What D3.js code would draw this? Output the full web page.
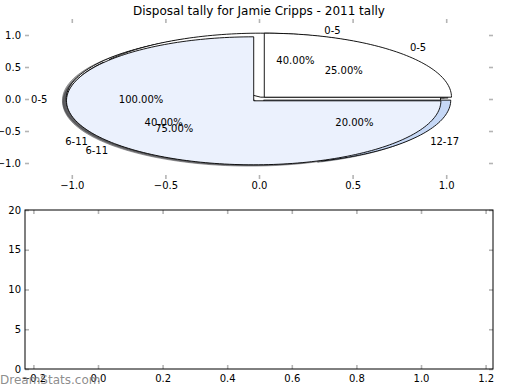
<!DOCTYPE html>
<html>
<head>
<meta charset="utf-8">
<script src="https://cdn.jsdelivr.net/npm/d3@7"></script>
<style>
  html, body { margin: 0; padding: 0; background: #ffffff; }
  svg { display: block; font-family: "DejaVu Sans", sans-serif; }
</style>
</head>
<body>
<svg id="chart" width="520" height="390"></svg>
<script>
// ---- data ----
const chartTitle = "Disposal tally for Jamie Cripps - 2011 tally";
const pie1Labels = ["0-5"];
const pie1Values = [100];
const pie1Explode = [0.03];
const pie2Labels = ["0-5", "6-11", "12-17"];
const pie2Values = [40, 40, 20];
const pie2Explode = [0.03, 0.03, 0.03];
const pie3Labels = ["0-5", "6-11"];
const pie3Values = [25, 75];
const pie3Explode = [0.04, 0.04];
const pieTicks = [-1.0, -0.5, 0.0, 0.5, 1.0];
const lowerXTicks = [-0.2, 0.0, 0.2, 0.4, 0.6, 0.8, 1.0, 1.2];
const lowerYTicks = [0, 5, 10, 15, 20];
const watermark = "DreamStats.com";

// ---- style ----
const wedgeColors = ["#ffffff", "#ebf1fd", "#c6d8f6"];
const tickColor = "#b4b4b4";
const fmtTick = d => d3.format(".1f")(d).replace("-", "\u2212");

const svg = d3.select("#chart");

// ---- upper (pie) axes ----
const px = d3.scaleLinear().domain([-1.25, 1.25]).range([25, 493]);
const py = d3.scaleLinear().domain([-1.25, 1.25]).range([179, 19]);

const pies = [
  { labels: pie1Labels, values: pie1Values, explode: pie1Explode },
  { labels: pie2Labels, values: pie2Values, explode: pie2Explode },
  { labels: pie3Labels, values: pie3Values, explode: pie3Explode }
];

const rad = d => d * Math.PI / 180;
const line = d3.line().x(d => px(d[0])).y(d => py(d[1]));

function wedgePoints(cx, cy, t1, t2) {
  const full = Math.abs((t2 - t1) - 360) < 1e-9;
  const n = Math.max(8, Math.ceil((t2 - t1) / 1.5));
  const pts = [];
  if (!full) pts.push([cx, cy]);
  for (let i = 0; i <= n; i++) {
    const a = rad(t1 + (t2 - t1) * i / n);
    pts.push([cx + Math.cos(a), cy + Math.sin(a)]);
  }
  return pts;
}

// build wedges
const wedges = [];
pies.forEach((p, pi) => {
  const total = d3.sum(p.values);
  let t = 0;
  p.values.forEach((v, i) => {
    const frac = v / total;
    const t1 = 360 * t, t2 = 360 * (t + frac);
    const tm = rad((t1 + t2) / 2);
    const cx = p.explode[i] * Math.cos(tm);
    const cy = p.explode[i] * Math.sin(tm);
    wedges.push({
      pie: pi, color: wedgeColors[i % wedgeColors.length],
      pts: wedgePoints(cx, cy, t1, t2),
      label: p.labels[i], pct: d3.format(".2f")(100 * frac) + "%",
      lx: cx + 1.1 * Math.cos(tm), ly: cy + 1.1 * Math.sin(tm),
      tx: cx + 0.6 * Math.cos(tm), ty: cy + 0.6 * Math.sin(tm)
    });
    t += frac;
  });
});

const gPie = svg.append("g");
// shadows (below all wedges)
wedges.forEach(w => {
  const c = d3.rgb(w.color);
  const sc = d3.rgb(c.r * 0.3, c.g * 0.3, c.b * 0.3);
  gPie.append("path")
    .attr("d", line(w.pts.map(p => [p[0] - 0.02, p[1] - 0.02])) + "Z")
    .attr("fill", sc).attr("fill-opacity", 0.5)
    .attr("stroke", sc).attr("stroke-opacity", 0.5).attr("stroke-width", 1);
});
// wedges
wedges.forEach(w => {
  gPie.append("path")
    .attr("d", line(w.pts) + "Z")
    .attr("fill", w.color)
    .attr("stroke", "#000").attr("stroke-width", 0.9)
    .attr("stroke-linejoin", "miter");
});
// texts
wedges.forEach(w => {
  gPie.append("text")
    .attr("x", px(w.lx)).attr("y", py(w.ly)).attr("dy", "0.36em")
    .attr("text-anchor", w.lx > 0 ? "start" : "end")
    .attr("font-size", 10).attr("fill", "#000").text(w.label);
  gPie.append("text")
    .attr("x", px(w.tx)).attr("y", py(w.ty)).attr("dy", "0.36em")
    .attr("text-anchor", "middle")
    .attr("font-size", 10).attr("fill", "#000").text(w.pct);
});

function styleAxis(g) {
  g.select(".domain").remove();
  g.selectAll(".tick line").attr("stroke", tickColor).attr("stroke-width", 1.6);
  g.selectAll(".tick text").attr("font-family", "DejaVu Sans").attr("font-size", 10).attr("fill", "#000");
}

// pie axes ticks (frame off)
svg.append("g").attr("transform", "translate(0,179)")
  .call(d3.axisBottom(px).tickValues(pieTicks).tickSize(-4).tickPadding(3).tickFormat(fmtTick))
  .call(styleAxis);
svg.append("g").attr("transform", "translate(0,19)")
  .call(d3.axisTop(px).tickValues(pieTicks).tickSize(-4).tickFormat(""))
  .call(styleAxis);
svg.append("g").attr("transform", "translate(25,0)")
  .call(d3.axisLeft(py).tickValues(pieTicks).tickSize(-4).tickPadding(4).tickFormat(fmtTick))
  .call(styleAxis);
svg.append("g").attr("transform", "translate(493,0)")
  .call(d3.axisRight(py).tickValues(pieTicks).tickSize(-4).tickFormat(""))
  .call(styleAxis);

// title
svg.append("text").attr("x", 259).attr("y", 14.5).attr("text-anchor", "middle")
  .attr("font-size", 12).attr("fill", "#000").text(chartTitle);

// ---- lower axes (empty) ----
const bx = d3.scaleLinear().domain([-0.226, 1.2229]).range([25, 493]);
const by = d3.scaleLinear().domain([0, 20]).range([369, 210]);

svg.append("g").attr("transform", "translate(0,369)")
  .call(d3.axisBottom(bx).tickValues(lowerXTicks).tickSize(-4).tickPadding(5.5).tickFormat(fmtTick))
  .call(styleAxis);
svg.append("g").attr("transform", "translate(0,210)")
  .call(d3.axisTop(bx).tickValues(lowerXTicks).tickSize(-4).tickFormat(""))
  .call(styleAxis);
svg.append("g").attr("transform", "translate(25,0)")
  .call(d3.axisLeft(by).tickValues(lowerYTicks).tickSize(-4).tickPadding(4).tickFormat(d3.format("d")))
  .call(styleAxis);
svg.append("g").attr("transform", "translate(493,0)")
  .call(d3.axisRight(by).tickValues(lowerYTicks).tickSize(-4).tickFormat(""))
  .call(styleAxis);

svg.append("rect").attr("x", 25).attr("y", 210).attr("width", 468).attr("height", 159)
  .attr("fill", "none").attr("stroke", "#000").attr("stroke-width", 1);

// watermark
svg.append("text").attr("x", 0).attr("y", 383.5).attr("font-size", 12)
  .attr("fill", "#808080").attr("fill-opacity", 0.9).text(watermark);
</script>
</body>
</html>
